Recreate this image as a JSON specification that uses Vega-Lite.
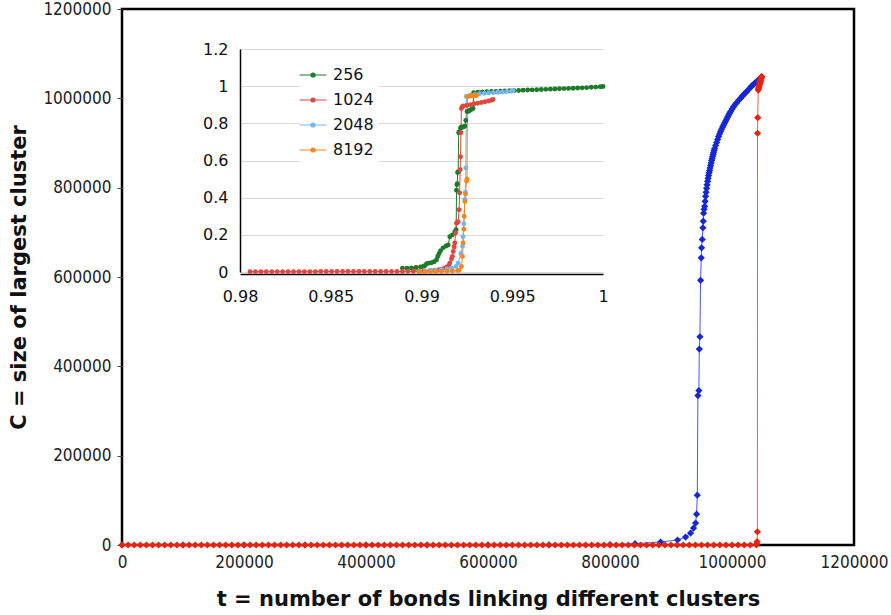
{
  "$schema": "https://vega.github.io/schema/vega-lite/v6.json",
  "width": 732,
  "height": 536,
  "autosize": {"type": "none"},
  "padding": {"left": 122, "top": 9, "right": 37, "bottom": 70},
  "background": "white",
  "config": {
    "view": {"stroke": "black", "strokeWidth": 2.5},
    "axis": {
      "labelFont": "DejaVu Sans Condensed, DejaVu Sans",
      "labelFontSize": 17,
      "labelColor": "#222222",
      "titleFont": "DejaVu Sans",
      "titleFontWeight": "bold",
      "titleFontSize": 21,
      "titleColor": "#111111",
      "grid": false
    }
  },
  "datasets": {
    "blue": [
      {"t":0,"c":0},{"t":100000,"c":0},{"t":200000,"c":0},{"t":300000,"c":0},{"t":400000,"c":0},{"t":500000,"c":0},{"t":600000,"c":0},{"t":700000,"c":200},{"t":800000,"c":800},{"t":841000,"c":3000},{"t":882900,"c":6700},{"t":910800,"c":11200},{"t":923900,"c":17800},{"t":932100,"c":26800},{"t":937000,"c":37900},{"t":940300,"c":49100},{"t":941900,"c":69100},{"t":943100,"c":111500},{"t":944100,"c":334600},{"t":945700,"c":345700},{"t":946400,"c":438700},{"t":947400,"c":466200},{"t":948500,"c":592600},{"t":949600,"c":643000},{"t":950100,"c":665400},{"t":951200,"c":684100},{"t":952300,"c":710000},{"t":952900,"c":724900},{"t":953400,"c":742800},{"t":954200,"c":751600},{"t":955100,"c":758400},{"t":955900,"c":769500},{"t":956700,"c":780700},{"t":957500,"c":789600},{"t":958400,"c":798500},{"t":959200,"c":806300},{"t":960000,"c":814100},{"t":960800,"c":821000},{"t":961600,"c":827500},{"t":962500,"c":833200},{"t":963300,"c":838700},{"t":964100,"c":844300},{"t":964900,"c":849800},{"t":965800,"c":855500},{"t":966600,"c":861000},{"t":967400,"c":865500},{"t":968200,"c":869900},{"t":969000,"c":874400},{"t":969800,"c":878800},{"t":970700,"c":883300},{"t":971500,"c":887700},{"t":973100,"c":894500},{"t":974800,"c":901100},{"t":976400,"c":908000},{"t":978000,"c":914500},{"t":979600,"c":920200},{"t":981300,"c":925700},{"t":982900,"c":930800},{"t":984600,"c":935700},{"t":986200,"c":940200},{"t":987900,"c":944600},{"t":989500,"c":949100},{"t":991200,"c":953500},{"t":992800,"c":958000},{"t":994400,"c":962500},{"t":996000,"c":966400},{"t":997700,"c":970300},{"t":1000100,"c":976000},{"t":1002600,"c":981400},{"t":1005100,"c":986000},{"t":1007600,"c":990300},{"t":1010800,"c":995500},{"t":1014100,"c":1000400},{"t":1016600,"c":1004400},{"t":1019100,"c":1008200},{"t":1021500,"c":1011700},{"t":1024000,"c":1014900},{"t":1027300,"c":1020000},{"t":1030600,"c":1024900},{"t":1033000,"c":1028300},{"t":1035500,"c":1031600},{"t":1038000,"c":1034500},{"t":1040400,"c":1037200},{"t":1042800,"c":1040000},{"t":1045300,"c":1042700},{"t":1047000,"c":1045500},{"t":1048575,"c":1048576}
    ],
    "red": [
      {"t":0,"c":0},{"t":10000,"c":0},{"t":20000,"c":0},{"t":30000,"c":0},{"t":40000,"c":0},{"t":50000,"c":0},{"t":60000,"c":0},{"t":70000,"c":0},{"t":80000,"c":0},{"t":90000,"c":0},
      {"t":100000,"c":0},{"t":110000,"c":0},{"t":120000,"c":0},{"t":130000,"c":0},{"t":140000,"c":0},{"t":150000,"c":0},{"t":160000,"c":0},{"t":170000,"c":0},{"t":180000,"c":0},{"t":190000,"c":0},
      {"t":200000,"c":0},{"t":210000,"c":0},{"t":220000,"c":0},{"t":230000,"c":0},{"t":240000,"c":0},{"t":250000,"c":0},{"t":260000,"c":0},{"t":270000,"c":0},{"t":280000,"c":0},{"t":290000,"c":0},
      {"t":300000,"c":0},{"t":310000,"c":0},{"t":320000,"c":0},{"t":330000,"c":0},{"t":340000,"c":0},{"t":350000,"c":0},{"t":360000,"c":0},{"t":370000,"c":0},{"t":380000,"c":0},{"t":390000,"c":0},
      {"t":400000,"c":0},{"t":410000,"c":0},{"t":420000,"c":0},{"t":430000,"c":0},{"t":440000,"c":0},{"t":450000,"c":0},{"t":460000,"c":0},{"t":470000,"c":0},{"t":480000,"c":0},{"t":490000,"c":0},
      {"t":500000,"c":0},{"t":510000,"c":0},{"t":520000,"c":0},{"t":530000,"c":0},{"t":540000,"c":0},{"t":550000,"c":0},{"t":560000,"c":0},{"t":570000,"c":0},{"t":580000,"c":0},{"t":590000,"c":0},
      {"t":600000,"c":0},{"t":610000,"c":0},{"t":620000,"c":0},{"t":630000,"c":0},{"t":640000,"c":0},{"t":650000,"c":0},{"t":660000,"c":0},{"t":670000,"c":0},{"t":680000,"c":0},{"t":690000,"c":0},
      {"t":700000,"c":0},{"t":710000,"c":0},{"t":720000,"c":0},{"t":730000,"c":0},{"t":740000,"c":0},{"t":750000,"c":0},{"t":760000,"c":0},{"t":770000,"c":0},{"t":780000,"c":0},{"t":790000,"c":0},
      {"t":800000,"c":0},{"t":810000,"c":0},{"t":820000,"c":0},{"t":830000,"c":0},{"t":840000,"c":0},{"t":850000,"c":0},{"t":860000,"c":0},{"t":870000,"c":0},{"t":880000,"c":0},{"t":890000,"c":0},
      {"t":900000,"c":0},{"t":910000,"c":0},{"t":920000,"c":0},{"t":930000,"c":0},{"t":940000,"c":0},{"t":950000,"c":0},{"t":960000,"c":0},{"t":970000,"c":0},{"t":980000,"c":0},{"t":990000,"c":0},
      {"t":1000000,"c":0},{"t":1010000,"c":0},{"t":1020000,"c":0},{"t":1030000,"c":0},{"t":1040000,"c":500},
      {"t":1040600,"c":2500},{"t":1041100,"c":7400},{"t":1041600,"c":29700},{"t":1041900,"c":921800},{"t":1042200,"c":956700},{"t":1043000,"c":1018600},{"t":1043500,"c":1021500},{"t":1044000,"c":1024500},{"t":1044500,"c":1027300},{"t":1045000,"c":1030000},{"t":1045500,"c":1032800},{"t":1046000,"c":1035500},{"t":1046500,"c":1038000},{"t":1047000,"c":1040500},{"t":1047500,"c":1043000},{"t":1048000,"c":1045500},{"t":1048575,"c":1048576}
    ],
    "inset": [
      {"L":"256","p":0.98895,"f":0.02},{"L":"256","p":0.9892,"f":0.021},{"L":"256","p":0.98945,"f":0.022},{"L":"256","p":0.9897,"f":0.024},{"L":"256","p":0.98995,"f":0.027},{"L":"256","p":0.99009,"f":0.03},{"L":"256","p":0.9902,"f":0.035},{"L":"256","p":0.99028,"f":0.045},{"L":"256","p":0.9904,"f":0.048},{"L":"256","p":0.99055,"f":0.05},{"L":"256","p":0.9907,"f":0.055},{"L":"256","p":0.99083,"f":0.066},{"L":"256","p":0.9909,"f":0.085},{"L":"256","p":0.99097,"f":0.1},{"L":"256","p":0.99105,"f":0.115},{"L":"256","p":0.99119,"f":0.13},{"L":"256","p":0.99135,"f":0.14},{"L":"256","p":0.99147,"f":0.145},{"L":"256","p":0.99156,"f":0.19},{"L":"256","p":0.9917,"f":0.2},{"L":"256","p":0.99183,"f":0.215},{"L":"256","p":0.99191,"f":0.227},{"L":"256","p":0.99193,"f":0.44},{"L":"256","p":0.99195,"f":0.47},{"L":"256","p":0.99197,"f":0.475},{"L":"256","p":0.99199,"f":0.535},{"L":"256","p":0.99202,"f":0.54},{"L":"256","p":0.99205,"f":0.75},{"L":"256","p":0.99208,"f":0.755},{"L":"256","p":0.99215,"f":0.775},{"L":"256","p":0.9922,"f":0.78},{"L":"256","p":0.9923,"f":0.78},{"L":"256","p":0.99239,"f":0.785},{"L":"256","p":0.99244,"f":0.815},{"L":"256","p":0.99251,"f":0.864},{"L":"256","p":0.9926,"f":0.865},{"L":"256","p":0.99266,"f":0.87},{"L":"256","p":0.99275,"f":0.875},{"L":"256","p":0.99284,"f":0.88},{"L":"256","p":0.99287,"f":0.965},{"L":"256","p":0.9931,"f":0.968},{"L":"256","p":0.99335,"f":0.969},{"L":"256","p":0.9936,"f":0.97},{"L":"256","p":0.99385,"f":0.971},{"L":"256","p":0.9941,"f":0.972},{"L":"256","p":0.99435,"f":0.973},{"L":"256","p":0.9946,"f":0.974},{"L":"256","p":0.99485,"f":0.975},{"L":"256","p":0.9951,"f":0.976},{"L":"256","p":0.99535,"f":0.977},{"L":"256","p":0.9956,"f":0.978},{"L":"256","p":0.99585,"f":0.979},{"L":"256","p":0.9961,"f":0.98},{"L":"256","p":0.99635,"f":0.981},{"L":"256","p":0.9966,"f":0.982},{"L":"256","p":0.99685,"f":0.983},{"L":"256","p":0.9971,"f":0.984},{"L":"256","p":0.99735,"f":0.985},{"L":"256","p":0.9976,"f":0.986},{"L":"256","p":0.99785,"f":0.987},{"L":"256","p":0.9981,"f":0.988},{"L":"256","p":0.99835,"f":0.989},{"L":"256","p":0.9986,"f":0.99},{"L":"256","p":0.99885,"f":0.991},{"L":"256","p":0.9991,"f":0.992},{"L":"256","p":0.99935,"f":0.994},{"L":"256","p":0.9996,"f":0.995},{"L":"256","p":0.99985,"f":0.997},{"L":"256","p":1.0,"f":0.998},
      {"L":"1024","p":0.98055,"f":0.002},{"L":"1024","p":0.98085,"f":0.002},{"L":"1024","p":0.98115,"f":0.002},{"L":"1024","p":0.98145,"f":0.002},{"L":"1024","p":0.98175,"f":0.002},{"L":"1024","p":0.98205,"f":0.002},{"L":"1024","p":0.98235,"f":0.002},{"L":"1024","p":0.98265,"f":0.002},{"L":"1024","p":0.98295,"f":0.002},{"L":"1024","p":0.98325,"f":0.002},{"L":"1024","p":0.98355,"f":0.002},{"L":"1024","p":0.98385,"f":0.002},{"L":"1024","p":0.98415,"f":0.002},{"L":"1024","p":0.98445,"f":0.003},{"L":"1024","p":0.98475,"f":0.003},{"L":"1024","p":0.98505,"f":0.003},{"L":"1024","p":0.98535,"f":0.003},{"L":"1024","p":0.98565,"f":0.003},{"L":"1024","p":0.98595,"f":0.003},{"L":"1024","p":0.98625,"f":0.003},{"L":"1024","p":0.98655,"f":0.003},{"L":"1024","p":0.98685,"f":0.003},{"L":"1024","p":0.98715,"f":0.003},{"L":"1024","p":0.98745,"f":0.003},{"L":"1024","p":0.98775,"f":0.003},{"L":"1024","p":0.98805,"f":0.003},{"L":"1024","p":0.98835,"f":0.003},{"L":"1024","p":0.98865,"f":0.003},{"L":"1024","p":0.98895,"f":0.003},{"L":"1024","p":0.98925,"f":0.004},{"L":"1024","p":0.98955,"f":0.004},{"L":"1024","p":0.98985,"f":0.004},{"L":"1024","p":0.99015,"f":0.005},{"L":"1024","p":0.99045,"f":0.007},{"L":"1024","p":0.9907,"f":0.009},{"L":"1024","p":0.99095,"f":0.012},{"L":"1024","p":0.99115,"f":0.016},{"L":"1024","p":0.9913,"f":0.022},{"L":"1024","p":0.9914,"f":0.027},{"L":"1024","p":0.9915,"f":0.035},{"L":"1024","p":0.99156,"f":0.048},{"L":"1024","p":0.99165,"f":0.07},{"L":"1024","p":0.9917,"f":0.084},{"L":"1024","p":0.99175,"f":0.11},{"L":"1024","p":0.9918,"f":0.135},{"L":"1024","p":0.99183,"f":0.156},{"L":"1024","p":0.99188,"f":0.21},{"L":"1024","p":0.99193,"f":0.263},{"L":"1024","p":0.99198,"f":0.268},{"L":"1024","p":0.99202,"f":0.27},{"L":"1024","p":0.99207,"f":0.335},{"L":"1024","p":0.9921,"f":0.425},{"L":"1024","p":0.99213,"f":0.55},{"L":"1024","p":0.99215,"f":0.62},{"L":"1024","p":0.99217,"f":0.75},{"L":"1024","p":0.9922,"f":0.88},{"L":"1024","p":0.99225,"f":0.89},{"L":"1024","p":0.9923,"f":0.893},{"L":"1024","p":0.9925,"f":0.897},{"L":"1024","p":0.9927,"f":0.9},{"L":"1024","p":0.9929,"f":0.905},{"L":"1024","p":0.9931,"f":0.908},{"L":"1024","p":0.9933,"f":0.912},{"L":"1024","p":0.9935,"f":0.916},{"L":"1024","p":0.9937,"f":0.92},{"L":"1024","p":0.99385,"f":0.924},{"L":"1024","p":0.99394,"f":0.928},
      {"L":"2048","p":0.9899,"f":0.004},{"L":"2048","p":0.9902,"f":0.006},{"L":"2048","p":0.9905,"f":0.008},{"L":"2048","p":0.9908,"f":0.01},{"L":"2048","p":0.9911,"f":0.013},{"L":"2048","p":0.9914,"f":0.016},{"L":"2048","p":0.99165,"f":0.02},{"L":"2048","p":0.9919,"f":0.03},{"L":"2048","p":0.99202,"f":0.048},{"L":"2048","p":0.99217,"f":0.1},{"L":"2048","p":0.99226,"f":0.138},{"L":"2048","p":0.99229,"f":0.19},{"L":"2048","p":0.99233,"f":0.26},{"L":"2048","p":0.99239,"f":0.39},{"L":"2048","p":0.99242,"f":0.43},{"L":"2048","p":0.99244,"f":0.56},{"L":"2048","p":0.99247,"f":0.945},{"L":"2048","p":0.9927,"f":0.952},{"L":"2048","p":0.99295,"f":0.956},{"L":"2048","p":0.9932,"f":0.959},{"L":"2048","p":0.99345,"f":0.961},{"L":"2048","p":0.9937,"f":0.963},{"L":"2048","p":0.99395,"f":0.965},{"L":"2048","p":0.9942,"f":0.967},{"L":"2048","p":0.99445,"f":0.969},{"L":"2048","p":0.9947,"f":0.971},{"L":"2048","p":0.99495,"f":0.973},{"L":"2048","p":0.99505,"f":0.975},
      {"L":"8192","p":0.98991,"f":0.002},{"L":"8192","p":0.9902,"f":0.002},{"L":"8192","p":0.9905,"f":0.002},{"L":"8192","p":0.9908,"f":0.003},{"L":"8192","p":0.9911,"f":0.003},{"L":"8192","p":0.9914,"f":0.004},{"L":"8192","p":0.9917,"f":0.005},{"L":"8192","p":0.992,"f":0.008},{"L":"8192","p":0.99207,"f":0.01},{"L":"8192","p":0.9922,"f":0.03},{"L":"8192","p":0.99226,"f":0.084},{"L":"8192","p":0.99229,"f":0.156},{"L":"8192","p":0.99233,"f":0.23},{"L":"8192","p":0.99235,"f":0.3},{"L":"8192","p":0.99239,"f":0.38},{"L":"8192","p":0.99242,"f":0.42},{"L":"8192","p":0.99248,"f":0.49},{"L":"8192","p":0.99251,"f":0.5},{"L":"8192","p":0.99253,"f":0.945},{"L":"8192","p":0.9926,"f":0.946},{"L":"8192","p":0.99266,"f":0.947},{"L":"8192","p":0.99275,"f":0.948},{"L":"8192","p":0.99284,"f":0.949},{"L":"8192","p":0.99295,"f":0.95},{"L":"8192","p":0.99303,"f":0.95}
    ]
  },
  "layer": [
    {
      "encoding": {
        "x": {
          "field": "t", "type": "quantitative",
          "scale": {"domain": [0, 1200000], "nice": false, "zero": false},
          "axis": {
            "values": [0, 200000, 400000, 600000, 800000, 1000000, 1200000],
            "format": "d", "ticks": false, "domain": false, "labelPadding": 9, "labelFlush": false,
            "title": "t = number of bonds linking different clusters", "titlePadding": 18
          }
        },
        "y": {
          "field": "c", "type": "quantitative",
          "scale": {"domain": [0, 1200000], "nice": false, "zero": false},
          "axis": {
            "values": [0, 200000, 400000, 600000, 800000, 1000000, 1200000],
            "format": "d", "tickSize": 5, "tickColor": "#444444", "domain": false, "labelPadding": 6, "labelFlush": false,
            "title": "C = size of largest cluster", "titlePadding": 13
          }
        }
      },
      "layer": [
        {
          "data": {"name": "blue"},
          "mark": {"type": "line", "color": "#4a5ae0", "strokeWidth": 1,
                   "point": {"shape": "diamond", "size": 52, "color": "#1428d6", "filled": true}}
        },
        {
          "data": {"name": "red"},
          "mark": {"type": "line", "color": "#e8604a", "strokeWidth": 1,
                   "point": {"shape": "diamond", "size": 52, "color": "#e8220c", "filled": true}}
        }
      ]
    },
    {
      "encoding": {
        "x": {
          "field": "p", "type": "quantitative",
          "scale": {"domain": [0.98, 1], "range": [118, 481], "nice": false, "zero": false},
          "axis": {
            "orient": "bottom", "offset": -271,
            "values": [0.98, 0.985, 0.99, 0.995, 1],
            "labelExpr": "'' + datum.value",
            "ticks": false, "domain": true, "domainColor": "#000000", "domainWidth": 1.5, "labelFlush": false,
            "labelFont": "DejaVu Sans", "labelFontSize": 16, "labelColor": "#111111", "labelPadding": 14,
            "title": null, "grid": false
          }
        },
        "y": {
          "field": "f", "type": "quantitative",
          "scale": {"domain": [0, 1.2], "range": [263, 40], "nice": false, "zero": false},
          "axis": {
            "orient": "left", "offset": -118,
            "values": [0, 0.2, 0.4, 0.6, 0.8, 1, 1.2],
            "labelExpr": "'' + datum.value",
            "ticks": false, "domain": true, "domainColor": "#000000", "domainWidth": 1.5, "labelFlush": false,
            "labelFont": "DejaVu Sans", "labelFontSize": 16, "labelColor": "#111111", "labelPadding": 12,
            "title": null, "grid": true, "gridColor": "#d9d9d9", "gridWidth": 1
          }
        },
        "color": {
          "field": "L", "type": "nominal",
          "scale": {"domain": ["256", "1024", "2048", "8192"], "range": ["#1c7a28", "#e2463f", "#74b7ea", "#f7861c"]},
          "legend": {
            "orient": "none", "legendX": 178, "legendY": 53, "title": null,
            "symbolType": "M-2,0L2,0M0.3,0A0.3,0.3 0 1,1 -0.3,0A0.3,0.3 0 1,1 0.3,0",
            "symbolSize": 182, "symbolStrokeWidth": 1.2,
            "labelFont": "DejaVu Sans", "labelFontSize": 16, "labelColor": "#111111",
            "labelOffset": 12, "rowPadding": 9, "fillColor": "white", "padding": 5
          }
        }
      },
      "layer": [
        {"data": {"name": "inset"}, "mark": {"type": "line", "strokeWidth": 1}},
        {"data": {"name": "inset"}, "mark": {"type": "circle", "size": 24, "opacity": 1}},
        {
          "data": {"values": [{}]},
          "mark": {"type": "rule", "color": "#c8c8c8", "strokeWidth": 1},
          "encoding": {"x": {"datum": 1}, "y": {"datum": 0}, "y2": {"datum": 1.2}, "color": {"value": "#c8c8c8"}}
        }
      ]
    }
  ],
  "resolve": {
    "scale": {"x": "independent", "y": "independent", "color": "independent"},
    "axis": {"x": "independent", "y": "independent"}
  }
}
